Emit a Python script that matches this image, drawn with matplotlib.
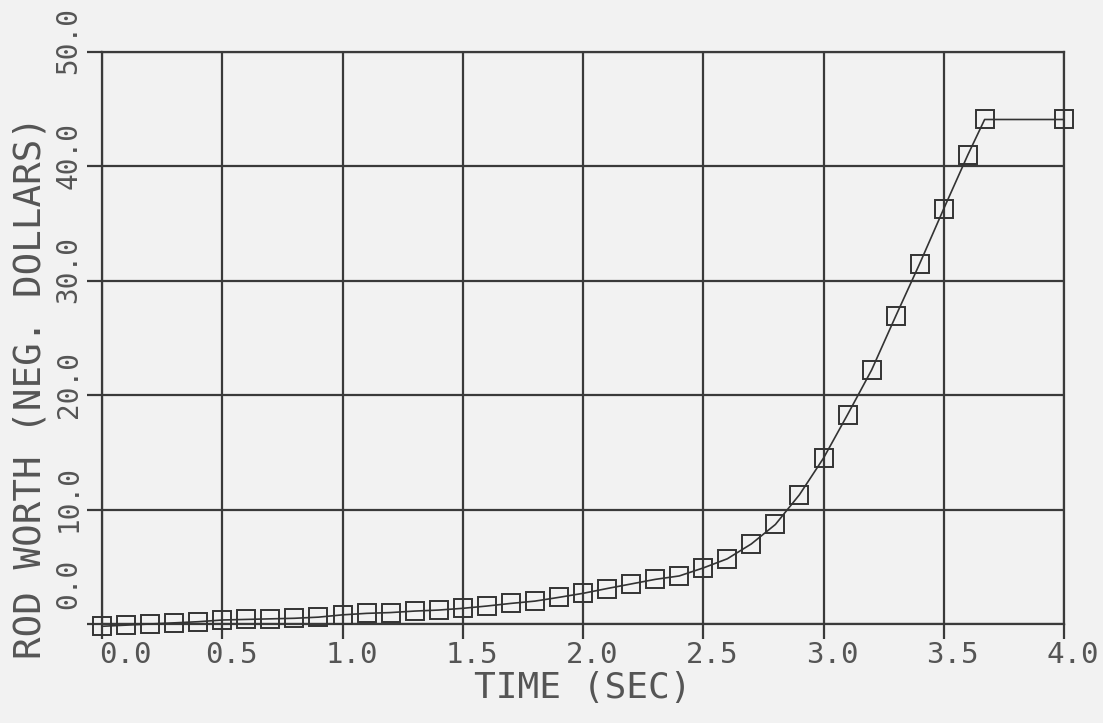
import matplotlib
matplotlib.use("Agg")
import matplotlib.pyplot as plt
import matplotlib.transforms as mtransforms

# ---- data ----
time_sec = [0.0, 0.1, 0.2, 0.3, 0.4, 0.5, 0.6, 0.7, 0.8, 0.9,
            1.0, 1.1, 1.2, 1.3, 1.4, 1.5, 1.6, 1.7, 1.8, 1.9,
            2.0, 2.1, 2.2, 2.3, 2.4, 2.5, 2.6, 2.7, 2.8, 2.9,
            3.0, 3.1, 3.2, 3.3, 3.4, 3.5, 3.6, 3.67, 4.0]
rod_worth = [-0.2, -0.1, 0.0, 0.1, 0.2, 0.35, 0.4, 0.45, 0.5, 0.6,
             0.8, 0.93, 1.0, 1.13, 1.22, 1.37, 1.57, 1.8, 2.0, 2.33,
             2.68, 3.1, 3.5, 3.9, 4.2, 4.9, 5.7, 7.0, 8.7, 11.3,
             14.5, 18.3, 22.2, 26.9, 31.5, 36.3, 41.0, 44.1, 44.1]
x_ticks = [0.0, 0.5, 1.0, 1.5, 2.0, 2.5, 3.0, 3.5, 4.0]
x_tick_labels = ["0.0", "0.5", "1.0", "1.5", "2.0", "2.5", "3.0", "3.5", "4.0"]
y_ticks = [0, 10, 20, 30, 40, 50]
y_tick_labels = ["0.0", "10.0", "20.0", "30.0", "40.0", "50.0"]
x_label = "TIME (SEC)"
y_label = "ROD WORTH (NEG. DOLLARS)"

BG = "#f2f2f2"
INK = "#3a3a3a"
TXT = "#555555"
FONT = "DejaVu Sans Mono"

fig = plt.figure(figsize=(11.03, 7.23), dpi=100, facecolor=BG)
ax = fig.add_axes([102/1103, 1 - 624/723, (1064-102)/1103, (624-52)/723])
ax.set_facecolor(BG)

ax.plot(time_sec, rod_worth, color="#333333", lw=1.2, marker="s",
        markersize=12.5, markerfacecolor="none", markeredgecolor="#333333",
        markeredgewidth=1.4, clip_on=False, zorder=3)

ax.set_xlim(0, 4.0)
ax.set_ylim(0, 50)
ax.set_xticks(x_ticks)
ax.set_yticks(y_ticks)
ax.set_xticklabels(x_tick_labels, fontsize=21, family=FONT, color=TXT)
ax.set_yticklabels(y_tick_labels, fontsize=20, family=FONT, color=TXT,
                   rotation=90, va="center", ha="right")

ax.grid(True, color=INK, lw=1.6)
for s in ax.spines.values():
    s.set_color(INK)
    s.set_linewidth(1.6)
ax.tick_params(axis="both", direction="out", length=11, width=1.6, color=INK)
ax.tick_params(axis="x", pad=1)
ax.tick_params(axis="y", pad=3)

# shift tick labels like the plotter output
for i, lab in enumerate(ax.get_xticklabels()):
    dx = 23 if i == 0 else 9
    lab.set_ha("center")
    lab.set_transform(lab.get_transform() +
                      mtransforms.Affine2D().translate(dx, 0))
for i, lab in enumerate(ax.get_yticklabels()):
    dy = 40 if i == 0 else 11
    lab.set_transform(lab.get_transform() +
                      mtransforms.Affine2D().translate(0, dy))

ax.set_xlabel(x_label, fontsize=26, family=FONT, color=TXT)
ax.xaxis.set_label_coords(0.5, -0.082)
ax.set_ylabel(y_label, fontsize=27, family=FONT, color=TXT)
ax.yaxis.set_label_coords(-0.056, 0.414)

fig.savefig("out.png", dpi=100, facecolor=BG)
